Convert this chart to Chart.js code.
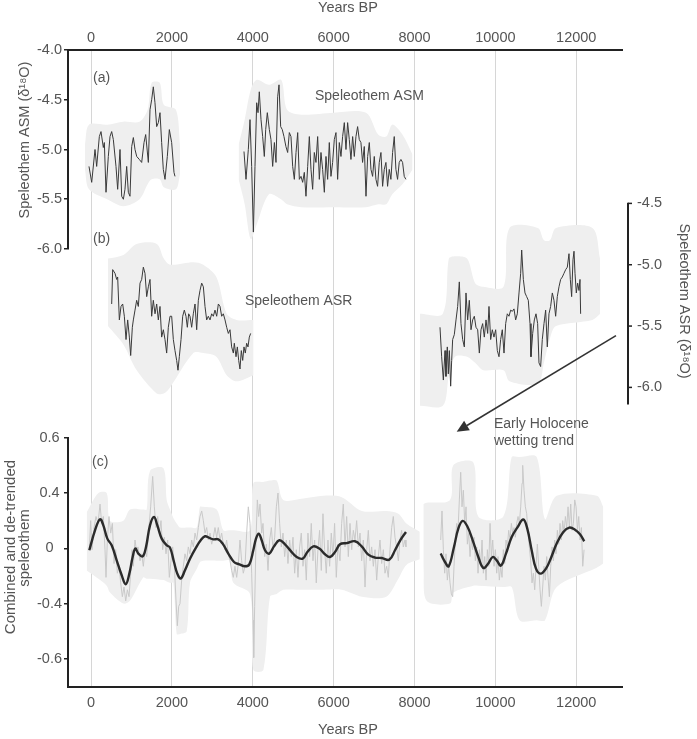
<!DOCTYPE html>
<html><head><meta charset="utf-8">
<script src="https://cdn.jsdelivr.net/npm/chart.js@4.4.1/dist/chart.umd.min.js"></script>
<style>html,body{margin:0;padding:0;background:#fff;}canvas{display:block;}</style>
</head><body>
<canvas id="c" width="697" height="739"></canvas>
<script>
// ---------- tick labels ----------
const xTicks = [0, 2000, 4000, 6000, 8000, 10000, 12000];
const asmTicks = [-4.0, -4.5, -5.0, -5.5, -6.0];
const asrTicks = [-4.5, -5.0, -5.5, -6.0];
const combTickValues = [0.8, 0.4, 0, -0.4, -0.8];
const combTickLabels = ['0.6', '0.4', '0', '-0.4', '-0.6'];

// ---------- (a) Speleothem ASM  [years BP, d18O] ----------
const asmSeg1 = [[-50,-5.17],[17,-5.33],[99,-5.0],[140,-5.17],[206,-4.87],[247,-4.82],[305,-4.98],[330,-4.93],[371,-5.43],[428,-5.07],[470,-4.87],[511,-4.82],[552,-4.9],[618,-5.17],[659,-5.40],[717,-5.0],[759,-5.47],[800,-5.5],[840,-5.4],[882,-5.17],[923,-5.43],[964,-5.47],[1006,-4.97],[1047,-4.88],[1088,-5.0],[1130,-5.07],[1195,-5.1],[1253,-5.13],[1311,-4.93],[1352,-4.85],[1418,-5.13],[1459,-4.6],[1500,-4.5],[1541,-4.37],[1582,-4.53],[1624,-4.77],[1665,-4.73],[1706,-4.63],[1747,-4.93],[1788,-5.2],[1830,-5.3],[1887,-5.07],[1937,-4.8],[1994,-4.93],[2052,-5.23],[2077,-5.27]];
const asmSeg2 = [[3783,-5.02],[3833,-5.3],[3890,-5.0],[3932,-4.7],[3973,-5.17],[4015,-5.83],[4055,-5.17],[4097,-4.53],[4130,-4.63],[4162,-4.42],[4204,-4.7],[4245,-4.87],[4286,-5.07],[4320,-4.8],[4360,-4.63],[4410,-4.8],[4450,-4.9],[4492,-5.17],[4535,-4.93],[4575,-5.13],[4616,-4.47],[4649,-4.35],[4690,-4.77],[4730,-4.8],[4772,-4.87],[4820,-4.97],[4863,-5.03],[4904,-4.83],[4945,-4.87],[4987,-5.17],[5028,-5.3],[5070,-5.03],[5111,-4.83],[5152,-5.3],[5193,-5.27],[5234,-5.33],[5275,-5.23],[5316,-5.47],[5358,-5.17],[5399,-4.87],[5440,-5.2],[5481,-5.4],[5522,-5.03],[5563,-5.13],[5605,-4.87],[5646,-5.3],[5687,-5.03],[5728,-5.2],[5770,-5.43],[5811,-5.07],[5852,-5.3],[5893,-4.93],[5934,-5.27],[5975,-5.13],[6016,-4.9],[6058,-4.83],[6099,-5.3],[6140,-4.93],[6181,-5.07],[6222,-4.87],[6264,-4.73],[6305,-5.0],[6346,-4.73],[6387,-4.9],[6428,-5.1],[6470,-4.87],[6511,-5.07],[6552,-4.87],[6593,-4.77],[6634,-4.9],[6675,-4.93],[6716,-5.13],[6758,-4.97],[6800,-5.47],[6841,-5.07],[6882,-4.93],[6923,-5.2],[6964,-5.27],[7005,-5.07],[7046,-5.3],[7087,-5.37],[7128,-5.13],[7170,-5.03],[7211,-5.37],[7252,-5.2],[7293,-5.13],[7334,-5.37],[7375,-5.2],[7416,-5.3],[7458,-5.03],[7499,-4.87],[7540,-5.2],[7581,-5.3],[7622,-5.13],[7664,-5.1],[7705,-5.13],[7746,-5.27],[7787,-5.3]];
// band [years, upper, lower]
const asmBand1 = [[-150,-4.95,-5.2],[-50,-4.75,-5.4],[400,-4.75,-5.5],[800,-4.72,-5.57],[1200,-4.72,-5.5],[1400,-4.6,-5.35],[1500,-4.33,-5.3],[1700,-4.33,-5.3],[1800,-4.55,-5.38],[2100,-4.6,-5.4],[2200,-4.95,-5.25]];
const asmBand2 = [[3650,-4.95,-5.3],[3800,-4.7,-5.55],[3950,-4.4,-5.9],[4100,-4.3,-5.75],[4400,-4.35,-5.45],[4700,-4.3,-5.5],[4850,-4.6,-5.55],[5200,-4.65,-5.58],[6000,-4.63,-5.58],[6800,-4.63,-5.58],[7100,-4.85,-5.55],[7300,-4.87,-5.55],[7450,-4.75,-5.45],[7700,-4.85,-5.35],[7950,-5.05,-5.2]];

// ---------- (b) Speleothem ASR ----------
const asrSeg1 = [[511,-5.32],[536,-5.04],[593,-5.07],[635,-5.12],[659,-5.10],[701,-5.45],[742,-5.34],[783,-5.32],[824,-5.42],[866,-5.61],[907,-5.45],[948,-5.59],[981,-5.74],[1022,-5.51],[1047,-5.45],[1088,-5.37],[1129,-5.29],[1170,-5.34],[1212,-5.15],[1253,-5.12],[1294,-5.02],[1335,-5.07],[1377,-5.26],[1418,-5.18],[1459,-5.12],[1500,-5.42],[1541,-5.29],[1583,-5.40],[1624,-5.32],[1665,-5.45],[1706,-5.34],[1747,-5.59],[1789,-5.53],[1830,-5.61],[1871,-5.72],[1912,-5.51],[1954,-5.42],[1995,-5.42],[2036,-5.61],[2077,-5.70],[2118,-5.78],[2151,-5.86],[2184,-5.75],[2226,-5.61],[2267,-5.42],[2308,-5.37],[2349,-5.42],[2382,-5.51],[2415,-5.40],[2448,-5.42],[2489,-5.51],[2530,-5.40],[2572,-5.32],[2613,-5.53],[2654,-5.29],[2695,-5.21],[2737,-5.15],[2778,-5.18],[2819,-5.34],[2860,-5.45],[2901,-5.42],[2943,-5.45],[2984,-5.40],[3025,-5.42],[3066,-5.37],[3108,-5.42],[3149,-5.32],[3190,-5.34],[3231,-5.42],[3272,-5.40],[3314,-5.45],[3355,-5.51],[3396,-5.56],[3437,-5.53],[3478,-5.67],[3520,-5.72],[3544,-5.64],[3586,-5.75],[3619,-5.67],[3652,-5.78],[3684,-5.85],[3717,-5.70],[3751,-5.78],[3783,-5.67],[3816,-5.72],[3849,-5.64],[3882,-5.67],[3915,-5.59],[3948,-5.56]];
const asrSeg2 = [[8630,-5.51],[8671,-5.75],[8713,-5.94],[8754,-5.70],[8778,-5.91],[8811,-5.67],[8836,-5.89],[8861,-5.70],[8894,-5.99],[8919,-5.78],[8943,-5.61],[8984,-5.57],[9026,-5.45],[9067,-5.34],[9108,-5.14],[9149,-5.48],[9191,-5.61],[9232,-5.67],[9273,-5.23],[9314,-5.45],[9355,-5.29],[9397,-5.53],[9438,-5.45],[9479,-5.42],[9520,-5.51],[9562,-5.53],[9603,-5.72],[9644,-5.53],[9685,-5.48],[9726,-5.59],[9768,-5.45],[9809,-5.56],[9842,-5.34],[9883,-5.61],[9924,-5.53],[9965,-5.59],[10007,-5.53],[10048,-5.70],[10089,-5.75],[10130,-5.61],[10171,-5.53],[10213,-5.72],[10254,-5.48],[10295,-5.40],[10336,-5.42],[10378,-5.37],[10419,-5.38],[10460,-5.36],[10501,-5.45],[10542,-5.40],[10584,-5.23],[10625,-5.07],[10650,-4.88],[10691,-5.12],[10732,-5.23],[10773,-5.26],[10814,-5.29],[10856,-5.48],[10880,-5.75],[10922,-5.56],[10963,-5.45],[11004,-5.40],[11045,-5.48],[11078,-5.80],[11119,-5.83],[11160,-5.61],[11202,-5.48],[11243,-5.37],[11284,-5.67],[11325,-5.40],[11366,-5.34],[11408,-5.23],[11449,-5.29],[11490,-5.42],[11531,-5.26],[11573,-5.18],[11614,-5.12],[11655,-5.10],[11696,-5.07],[11738,-5.04],[11779,-5.02],[11820,-4.91],[11853,-5.12],[11886,-5.26],[11919,-4.96],[11944,-4.89],[11969,-5.07],[12001,-5.23],[12034,-5.15],[12067,-5.21],[12092,-5.12],[12108,-5.40]];
const asrBand1 = [[420,-4.95,-5.5],[800,-4.92,-5.65],[1130,-4.83,-5.86],[1625,-4.83,-6.05],[1800,-4.95,-6.05],[1954,-5.0,-6.0],[2530,-4.98,-5.72],[2777,-5.0,-5.72],[3100,-5.1,-5.75],[3355,-5.4,-5.9],[3600,-5.45,-5.95],[4020,-5.45,-5.9]];
const asrBand2 = [[8130,-5.4,-6.15],[8700,-5.4,-6.15],[8850,-4.95,-5.9],[9000,-4.93,-5.75],[9300,-4.95,-5.75],[9500,-5.15,-5.8],[9700,-5.18,-5.86],[10200,-5.18,-5.86],[10350,-4.7,-5.95],[11050,-4.7,-5.97],[11200,-4.8,-5.8],[11350,-4.8,-5.6],[11500,-4.7,-5.5],[12400,-4.7,-5.45],[12590,-4.95,-5.4]];

// ---------- (c) Combined and de-trended ----------
const combSmooth1 = [[-42,-0.014],[99,0.13],[223,0.21],[305,0.166],[404,0.07],[511,0.022],[635,-0.087],[759,-0.195],[858,-0.26],[948,-0.183],[1030,-0.063],[1096,-0.002],[1170,-0.038],[1278,-0.058],[1360,0.01],[1459,0.166],[1558,0.226],[1640,0.166],[1748,0.07],[1872,0.022],[1954,0.005],[2052,-0.099],[2134,-0.183],[2218,-0.219],[2324,-0.159],[2448,-0.075],[2596,0.005],[2713,0.058],[2819,0.087],[2925,0.075],[3024,0.065],[3148,0.065],[3256,0.034],[3395,-0.038],[3536,-0.099],[3667,-0.116],[3808,-0.13],[3915,-0.116],[4013,-0.014],[4080,0.07],[4147,0.106],[4221,0.058],[4303,-0.014],[4409,-0.038],[4525,0.014],[4657,0.058],[4797,0.029],[4938,-0.019],[5086,-0.063],[5235,-0.075],[5350,-0.027],[5498,0.014],[5646,-0.002],[5786,-0.043],[5910,-0.063],[6034,-0.027],[6157,0.029],[6323,0.038],[6528,0.051],[6693,0.014],[6858,-0.046],[7023,-0.067],[7188,-0.07],[7377,-0.082],[7517,-0.014],[7658,0.063],[7789,0.118]];
const combSmooth2 = [[8647,-0.038],[8754,-0.099],[8845,-0.13],[8976,0.01],[9083,0.142],[9191,0.198],[9305,0.159],[9439,0.058],[9578,-0.063],[9701,-0.142],[9809,-0.116],[9933,-0.063],[10032,-0.087],[10138,-0.125],[10262,-0.038],[10403,0.082],[10542,0.15],[10690,0.208],[10789,0.142],[10897,-0.014],[11004,-0.147],[11120,-0.183],[11251,-0.147],[11367,-0.075],[11516,0.034],[11680,0.118],[11829,0.15],[11968,0.135],[12092,0.101],[12198,0.051]];
const combRaw1 = [[-42,-0.01],[-8,0.20],[25,-0.01],[74,0.15],[124,0.23],[173,0.18],[223,0.32],[264,0.18],[305,0.23],[346,-0.01],[371,-0.21],[404,0.06],[445,0.23],[487,0.11],[528,0.18],[569,-0.11],[610,-0.01],[652,-0.18],[693,-0.13],[734,-0.25],[775,-0.35],[816,-0.28],[858,-0.38],[899,-0.30],[940,-0.35],[981,-0.18],[1014,-0.01],[1047,-0.13],[1088,0.06],[1121,-0.01],[1162,0.01],[1212,-0.09],[1253,-0.04],[1294,-0.13],[1335,-0.01],[1377,-0.06],[1426,0.13],[1475,0.30],[1525,0.52],[1566,0.30],[1607,0.15],[1649,0.23],[1690,0.11],[1731,0.20],[1772,-0.01],[1813,0.08],[1855,-0.04],[1896,0.06],[1937,-0.21],[1978,-0.09],[2019,0.01],[2060,-0.11],[2102,-0.38],[2135,-0.56],[2168,-0.42],[2201,-0.40],[2242,-0.23],[2283,-0.13],[2324,-0.04],[2366,-0.09],[2407,0.01],[2448,-0.04],[2489,0.06],[2531,0.01],[2572,0.11],[2613,0.06],[2654,0.15],[2695,0.23],[2737,0.27],[2778,0.20],[2819,0.11],[2860,0.15],[2901,0.06],[2943,0.11],[2984,0.03],[3025,0.08],[3066,0.15],[3107,0.08],[3148,0.15],[3190,0.06],[3231,0.11],[3272,0.03],[3313,-0.01],[3354,0.06],[3395,-0.04],[3437,-0.09],[3478,-0.16],[3519,-0.21],[3560,-0.13],[3602,-0.21],[3643,-0.11],[3684,0.06],[3725,-0.09],[3766,-0.18],[3808,-0.13],[3849,0.11],[3890,0.30],[3932,0.18],[3973,-0.18],[4006,-0.52],[4023,-0.79],[4047,-0.42],[4080,0.06],[4113,0.35],[4146,0.23],[4179,0.32],[4220,0.11],[4253,0.18],[4295,-0.06],[4336,0.03],[4377,-0.16],[4418,0.06],[4460,0.15],[4501,-0.01],[4542,0.08],[4583,0.30],[4624,0.40],[4665,0.18],[4706,0.01],[4748,0.11],[4789,-0.06],[4830,0.06],[4871,-0.11],[4912,0.06],[4953,-0.06],[4995,0.08],[5036,-0.18],[5077,-0.01],[5118,-0.21],[5159,0.01],[5200,0.11],[5242,-0.13],[5283,-0.01],[5324,-0.23],[5365,0.11],[5406,-0.06],[5447,0.18],[5489,-0.09],[5530,0.06],[5571,-0.25],[5612,-0.01],[5653,0.13],[5695,-0.16],[5736,0.25],[5777,-0.01],[5818,-0.18],[5860,0.06],[5901,-0.13],[5942,0.11],[5983,-0.06],[6024,0.18],[6066,-0.21],[6107,0.03],[6157,-0.09],[6198,0.18],[6239,0.32],[6281,0.01],[6322,0.23],[6363,-0.06],[6405,0.18],[6446,-0.01],[6487,0.13],[6528,0.06],[6569,0.20],[6611,0.01],[6652,0.11],[6693,-0.09],[6734,0.06],[6776,-0.28],[6817,-0.01],[6858,0.13],[6899,-0.09],[6940,0.01],[6982,-0.13],[7023,-0.01],[7064,-0.23],[7105,-0.06],[7146,0.06],[7188,-0.11],[7229,-0.01],[7270,-0.18],[7311,-0.13],[7352,-0.21],[7394,-0.01],[7435,0.15],[7476,0.23],[7517,0.08],[7558,0.01],[7600,-0.09],[7641,0.06],[7682,0.13],[7723,0.01],[7765,0.06],[7789,0.01]];
const combRaw2 = [[8647,0.06],[8680,0.27],[8713,-0.01],[8746,-0.18],[8779,-0.04],[8812,-0.23],[8845,-0.13],[8878,-0.25],[8911,-0.33],[8944,-0.35],[8977,-0.13],[9010,0.06],[9043,0.18],[9076,0.13],[9109,0.35],[9142,0.55],[9175,0.30],[9208,0.42],[9241,0.18],[9274,0.30],[9307,0.03],[9340,0.11],[9373,-0.06],[9406,0.06],[9439,-0.01],[9472,0.08],[9505,-0.09],[9538,0.01],[9571,-0.18],[9604,-0.01],[9637,-0.13],[9670,0.06],[9703,-0.18],[9736,-0.06],[9769,-0.23],[9802,-0.01],[9835,-0.13],[9868,0.18],[9901,-0.06],[9934,0.06],[9967,-0.13],[10000,-0.01],[10032,-0.18],[10065,-0.06],[10098,-0.23],[10131,-0.13],[10164,-0.21],[10197,-0.01],[10230,-0.11],[10263,0.06],[10296,0.01],[10329,0.13],[10362,0.06],[10395,0.18],[10428,0.11],[10461,0.15],[10494,0.08],[10527,0.18],[10560,0.23],[10593,0.18],[10626,0.30],[10659,0.47],[10675,0.60],[10708,0.42],[10741,0.30],[10774,0.25],[10807,0.11],[10840,0.01],[10873,-0.09],[10906,-0.25],[10939,-0.18],[10972,-0.30],[11005,-0.13],[11038,0.03],[11071,-0.13],[11104,-0.30],[11137,-0.42],[11170,-0.28],[11203,-0.13],[11236,-0.23],[11269,-0.06],[11302,-0.21],[11335,-0.35],[11368,-0.13],[11401,0.01],[11434,-0.09],[11467,0.06],[11500,-0.04],[11533,0.13],[11566,0.03],[11599,0.18],[11632,0.06],[11665,0.20],[11698,0.11],[11731,0.23],[11764,0.15],[11797,0.30],[11830,0.15],[11863,0.32],[11896,0.13],[11929,0.18],[11962,0.35],[11995,0.30],[12028,0.13],[12061,0.23],[12094,0.06],[12127,0.15],[12160,-0.13],[12193,-0.01]];
const combBand1 = [[-107,0.26,-0.16],[182,0.40,-0.22],[388,0.40,-0.27],[470,0.20,-0.32],[800,0.20,-0.40],[964,0.28,-0.38],[1294,0.28,-0.21],[1377,0.28,-0.22],[1459,0.56,-0.22],[1789,0.58,-0.23],[1872,0.35,-0.24],[1954,0.28,-0.25],[2036,0.22,-0.25],[2118,0.18,-0.62],[2201,0.15,-0.62],[2366,0.15,-0.60],[2448,0.15,-0.25],[2613,0.15,-0.15],[2695,0.30,-0.10],[2778,0.30,-0.09],[3107,0.28,-0.09],[3272,0.13,-0.09],[3437,0.13,-0.09],[3519,0.13,-0.25],[3932,0.13,-0.33],[4015,0.47,-0.88],[4262,0.48,-0.88],[4427,0.49,-0.35],[4592,0.49,-0.33],[4756,0.35,-0.30],[5251,0.36,-0.30],[5745,0.38,-0.30],[6200,0.37,-0.30],[6700,0.27,-0.35],[7300,0.27,-0.35],[7600,0.25,-0.22],[7800,0.18,-0.12],[8130,0.12,-0.08]];
const combBand2 = [[8218,0.32,-0.13],[8300,0.33,-0.38],[8877,0.35,-0.40],[8960,0.60,-0.32],[9454,0.62,-0.27],[9578,0.23,-0.27],[10196,0.23,-0.28],[10403,0.66,-0.28],[10600,0.66,-0.52],[11021,0.66,-0.52],[11227,0.21,-0.52],[11516,0.38,-0.28],[12505,0.38,-0.14],[12668,0.30,-0.11]];

// ---------- styling / layout (not data) ----------
const FONT = '"Liberation Sans", Arial, Helvetica, sans-serif';
const TEXT = '#555';
const AXIS = '#222';
const BAND = '#efefef';
const X_MIN = -569, X_MAX = 13131;
const ASR_AXIS_END = -6.14;

const toXY = pairs => pairs.map(p => ({x: p[0], y: p[1]}));
const lineDs = (pairs, axis, color, width, tension) => ({
  data: toXY(pairs), yAxisID: axis, xAxisID: 'x', borderColor: color, borderWidth: width,
  pointRadius: 0, tension: tension, fill: false, borderJoinStyle: 'round', clip: false
});
const bandDs = (trip, axis) => [
  {data: trip.map(t => ({x: t[0], y: t[1]})), yAxisID: axis, xAxisID: 'x', borderColor: 'rgba(0,0,0,0)', borderWidth: 0, pointRadius: 0, tension: 0.3, fill: '+1', backgroundColor: BAND, clip: false},
  {data: trip.map(t => ({x: t[0], y: t[2]})), yAxisID: axis, xAxisID: 'x', borderColor: 'rgba(0,0,0,0)', borderWidth: 0, pointRadius: 0, tension: 0.3, fill: false, clip: false}
];

const datasets = [
  lineDs(combSmooth1, 'yC', '#2b2b2b', 2.4, 0.4),
  lineDs(combSmooth2, 'yC', '#2b2b2b', 2.4, 0.4),
  lineDs(asmSeg1, 'yA', '#3a3a3a', 1, 0),
  lineDs(asmSeg2, 'yA', '#3a3a3a', 1, 0),
  lineDs(asrSeg1, 'yB', '#3a3a3a', 1, 0),
  lineDs(asrSeg2, 'yB', '#3a3a3a', 1, 0),
  lineDs(combRaw1, 'yC', '#c9c9c9', 1, 0),
  lineDs(combRaw2, 'yC', '#c9c9c9', 1, 0),
  ...bandDs(asmBand1, 'yA'), ...bandDs(asmBand2, 'yA'),
  ...bandDs(asrBand1, 'yB'), ...bandDs(asrBand2, 'yB'),
  ...bandDs(combBand1, 'yC'), ...bandDs(combBand2, 'yC')
];

const setTicks = vals => s => { s.ticks = vals.map(v => ({value: v})); };
const tickFont = {family: FONT, size: 14.5};

const annotations = [
  {text: '(a)', x: 49, y: -4.28, axis: 'yA'},
  {text: '(b)', x: 49, y: -5.9, axis: 'yA'},
  {text: '(c)', x: 25, y: 0.622, axis: 'yC'},
  {text: 'Speleothem ASM', x: 5539, y: -4.46, axis: 'yA'},
  {text: 'Speleothem ASR', x: 3808, y: -5.296, axis: 'yB'},
  {text: 'Early Holocene', x: 9965, y: 0.897, axis: 'yC'},
  {text: 'wetting trend', x: 9965, y: 0.774, axis: 'yC'}
];
const arrow = {from: [12982, -5.578], to: [9043, -6.361], axis: 'yB'};

const deco = {
  id: 'deco',
  afterDraw(chart) {
    const {ctx, chartArea: ca, scales: s} = chart;
    const X = s.x;
    ctx.save();
    const seg = (x1, y1, x2, y2) => { ctx.beginPath(); ctx.moveTo(x1, y1); ctx.lineTo(x2, y2); ctx.stroke(); };
    // right (b) axis, offset from the plot edge
    ctx.strokeStyle = AXIS; ctx.lineWidth = 2;
    const xr = ca.right + 6;
    seg(xr, s.yB.getPixelForValue(asrTicks[0]) - 0.75, xr, s.yB.getPixelForValue(ASR_AXIS_END));
    ctx.lineWidth = 1.5;
    asrTicks.forEach(v => { const y = s.yB.getPixelForValue(v); seg(xr, y, xr + 4, y); });

    // annotations
    ctx.fillStyle = TEXT;
    ctx.font = '14px ' + FONT;
    ctx.textAlign = 'left'; ctx.textBaseline = 'middle';
    annotations.forEach(a => ctx.fillText(a.text, X.getPixelForValue(a.x), s[a.axis].getPixelForValue(a.y)));

    // arrow
    const ax1 = X.getPixelForValue(arrow.from[0]), ay1 = s[arrow.axis].getPixelForValue(arrow.from[1]);
    const ax2 = X.getPixelForValue(arrow.to[0]), ay2 = s[arrow.axis].getPixelForValue(arrow.to[1]);
    const ang = Math.atan2(ay2 - ay1, ax2 - ax1);
    const hl = 12, hw = 5.5;
    ctx.strokeStyle = '#333'; ctx.fillStyle = '#333'; ctx.lineWidth = 1.6;
    const bx = ax2 - hl * Math.cos(ang), by = ay2 - hl * Math.sin(ang);
    seg(ax1, ay1, bx, by);
    ctx.beginPath();
    ctx.moveTo(ax2, ay2);
    ctx.lineTo(bx + hw * Math.sin(ang), by - hw * Math.cos(ang));
    ctx.lineTo(bx - hw * Math.sin(ang), by + hw * Math.cos(ang));
    ctx.closePath(); ctx.fill();

    // axis titles
    ctx.fillStyle = TEXT;
    ctx.font = '14.5px ' + FONT;
    ctx.textAlign = 'center'; ctx.textBaseline = 'middle';
    ctx.fillText('Years BP', 348, 8);
    ctx.fillText('Years BP', 348, 730);
    const rot = (txt, x, y, a) => { ctx.save(); ctx.translate(x, y); ctx.rotate(a); ctx.fillText(txt, 0, 0); ctx.restore(); };
    rot('Speleothem ASM (δ¹⁸O)', 25, 140, -Math.PI / 2);
    ctx.font = '15px ' + FONT;
    rot('Combined and de-trended', 11, 547, -Math.PI / 2);
    rot('speleothem', 25, 548, -Math.PI / 2);
    ctx.font = '14.5px ' + FONT;
    rot('Speleothem ASR (δ¹⁸O)', 684, 301, Math.PI / 2);
    ctx.restore();
  }
};

Chart.defaults.font.family = FONT;
new Chart(document.getElementById('c'), {
  type: 'line',
  data: {datasets},
  options: {
    responsive: false, animation: false, devicePixelRatio: 1,
    layout: {padding: 0, autoPadding: false},
    plugins: {legend: {display: false}, tooltip: {enabled: false}},
    elements: {point: {radius: 0}},
    scales: {
      x: {
        type: 'linear', position: 'bottom', min: X_MIN, max: X_MAX,
        afterBuildTicks: setTicks(xTicks),
        afterFit: s => { s.height = 52.3; },
        ticks: {font: tickFont, color: TEXT, padding: 7.5, autoSkip: false, maxRotation: 0, callback: v => String(v)},
        grid: {color: '#d6d6d6', lineWidth: 1, drawTicks: false, drawOnChartArea: true},
        border: {display: true, color: AXIS, width: 2}
      },
      x2: {
        type: 'linear', position: 'top', min: X_MIN, max: X_MAX,
        afterBuildTicks: setTicks(xTicks),
        afterFit: s => { s.height = 50; },
        ticks: {font: tickFont, color: TEXT, padding: 3, autoSkip: false, maxRotation: 0, callback: v => String(v)},
        grid: {drawOnChartArea: false, drawTicks: false},
        border: {display: true, color: AXIS, width: 2}
      },
      yA: {
        type: 'linear', position: 'left', stack: 'left', stackWeight: 199, weight: 3,
        min: -6.0, max: -4.0,
        afterBuildTicks: setTicks(asmTicks),
        afterFit: s => { s.width = 68; },
        ticks: {font: tickFont, color: TEXT, padding: 2, autoSkip: false, callback: v => v.toFixed(1)},
        grid: {drawOnChartArea: false, drawTicks: true, tickLength: 4, color: AXIS, lineWidth: 1.5},
        border: {display: true, color: AXIS, width: 2}
      },
      yGap: {
        type: 'linear', position: 'left', stack: 'left', stackWeight: 188.7, weight: 2,
        min: 0, max: 1,
        afterFit: s => { s.width = 68; },
        ticks: {display: false},
        grid: {display: false, drawTicks: false},
        border: {display: false}
      },
      yC: {
        type: 'linear', position: 'left', stack: 'left', stackWeight: 249, weight: 1,
        min: -1.001, max: 0.8,
        afterBuildTicks: setTicks(combTickValues),
        afterFit: s => { s.width = 68; },
        ticks: {font: tickFont, color: TEXT, padding: 2, autoSkip: false, crossAlign: 'center',
                callback: (v, i) => combTickLabels[i]},
        grid: {drawOnChartArea: false, drawTicks: true, tickLength: 4, color: AXIS, lineWidth: 1.5},
        border: {display: true, color: AXIS, width: 2}
      },
      yB: {
        type: 'linear', position: 'right', min: -8.4399, max: -3.2495,
        afterBuildTicks: setTicks(asrTicks),
        afterFit: s => { s.width = 75; },
        ticks: {font: tickFont, color: TEXT, padding: 15, autoSkip: false, callback: v => v.toFixed(1)},
        grid: {drawOnChartArea: false, drawTicks: false},
        border: {display: false}
      }
    }
  },
  plugins: [deco]
});
</script>
</body></html>
